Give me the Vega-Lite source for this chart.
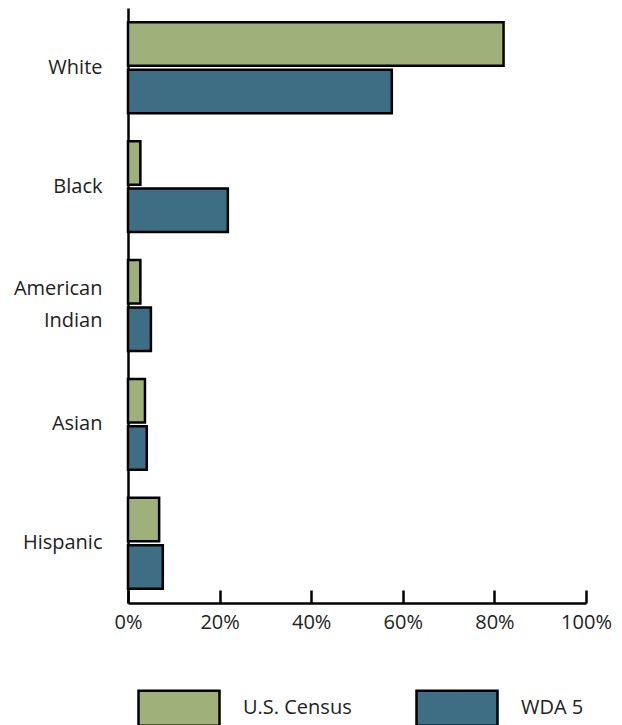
{
  "$schema": "https://vega.github.io/schema/vega-lite/v6.json",
  "width": 458,
  "height": 595,
  "autosize": "none",
  "padding": {"left": 128, "top": 8, "right": 36, "bottom": 122},
  "background": "white",
  "config": {"view": {"stroke": null}, "font": "Open Sans"},
  "data": {
    "values": [
      {"group": "White", "series": "U.S. Census", "pct": 82},
      {"group": "White", "series": "WDA 5", "pct": 57.6},
      {"group": "Black", "series": "U.S. Census", "pct": 2.7},
      {"group": "Black", "series": "WDA 5", "pct": 21.8},
      {"group": "American Indian", "series": "U.S. Census", "pct": 2.7},
      {"group": "American Indian", "series": "WDA 5", "pct": 5.0},
      {"group": "Asian", "series": "U.S. Census", "pct": 3.7},
      {"group": "Asian", "series": "WDA 5", "pct": 4.1},
      {"group": "Hispanic", "series": "U.S. Census", "pct": 6.8},
      {"group": "Hispanic", "series": "WDA 5", "pct": 7.6}
    ]
  },
  "mark": {"type": "bar", "stroke": "black", "strokeWidth": 2.5},
  "encoding": {
    "y": {
      "field": "group",
      "type": "nominal",
      "sort": ["White", "Black", "American Indian", "Asian", "Hispanic"],
      "scale": {"paddingInner": 0.235, "paddingOuter": 0.12},
      "axis": {
        "title": null,
        "ticks": false,
        "domainColor": "black",
        "domainWidth": 2.5,
        "labelFont": "Open Sans",
        "labelFontSize": 20,
        "labelColor": "#222222",
        "labelPadding": 26,
        "labelLineHeight": 32,
        "labelExpr": "split(datum.label, ' ')",
        "labelOffset": {
          "condition": {"test": "datum.value === 'American Indian'", "value": -17},
          "value": 0
        }
      }
    },
    "yOffset": {
      "field": "series",
      "sort": ["U.S. Census", "WDA 5"],
      "scale": {"paddingInner": 0.08}
    },
    "x": {
      "field": "pct",
      "type": "quantitative",
      "scale": {"domain": [0, 100]},
      "axis": {
        "title": null,
        "grid": false,
        "values": [0, 20, 40, 60, 80, 100],
        "labelExpr": "datum.value + '%'",
        "domainColor": "black",
        "domainWidth": 2.5,
        "tickColor": "black",
        "tickWidth": 2.5,
        "tickSize": -13,
        "labelPadding": 22,
        "labelFont": "Open Sans",
        "labelFontSize": 20,
        "labelColor": "#222222",
        "labelFlush": false
      }
    },
    "fill": {
      "field": "series",
      "type": "nominal",
      "scale": {"domain": ["U.S. Census", "WDA 5"], "range": ["#a0b07a", "#3e6e84"]},
      "legend": {
        "title": null,
        "orient": "none",
        "legendX": 9,
        "legendY": 658,
        "direction": "horizontal",
        "columns": 2,
        "columnPadding": 59,
        "symbolType": "M-1,-0.432H1V0.432H-1Z",
        "symbolSize": 6561,
        "symbolStrokeColor": "black",
        "symbolStrokeWidth": 2.5,
        "symbolOpacity": 1,
        "labelFont": "Open Sans",
        "labelFontSize": 20,
        "labelColor": "#222222",
        "labelOffset": 22
      }
    }
  }
}
